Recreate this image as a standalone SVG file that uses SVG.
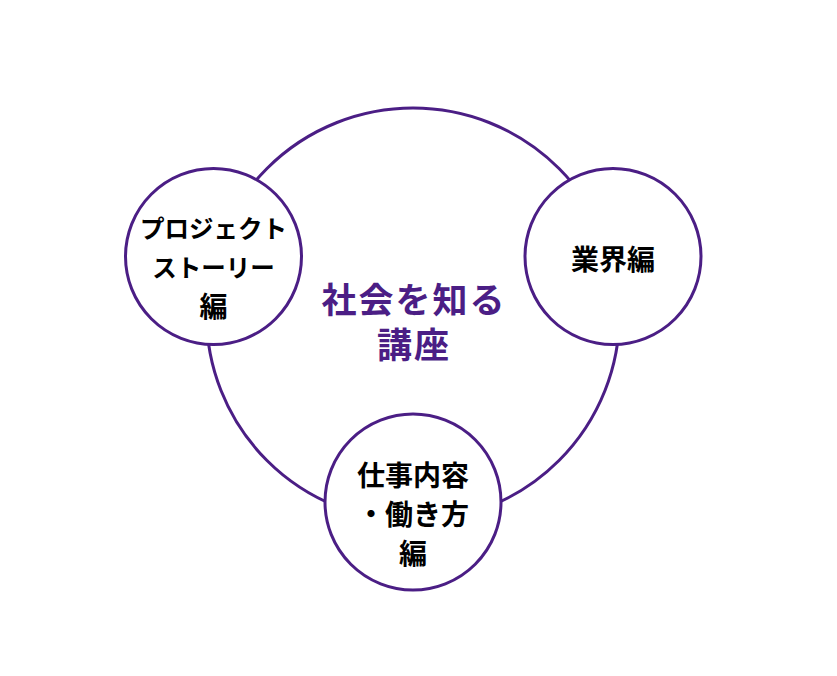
<svg xmlns="http://www.w3.org/2000/svg" width="837" height="676" viewBox="0 0 837 676">
<style>
.ring{fill:none;stroke:#4B1E85;stroke-width:3}
.node{fill:#fff;stroke:#4B1E85;stroke-width:3}
.lbl{font-family:"Noto Sans CJK JP","Noto Sans",sans-serif;font-size:28px;font-weight:700;fill:#000;text-anchor:middle}
.kana{font-size:24.5px}
.title{font-family:"Noto Sans CJK JP","Noto Sans",sans-serif;font-size:35px;font-weight:700;fill:#4B1E85;text-anchor:middle;letter-spacing:2px}
</style>
<rect width="837" height="676" fill="#fff"/>
<g id="connectors">
<circle class="ring" cx="413" cy="314.5" r="206.5"/>
</g>
<g id="center">
<text class="title" x="414" y="313">社会を知る</text>
<text class="title" x="414" y="358">講座</text>
</g>
<g id="node-project">
<circle class="node" cx="213.5" cy="256.5" r="88"/>
<text class="lbl kana" x="213.5" y="238">プロジェクト</text>
<text class="lbl kana" x="213.5" y="277">ストーリー</text>
<text class="lbl" x="213.5" y="317">編</text>
</g>
<g id="node-industry">
<circle class="node" cx="613" cy="256.5" r="88"/>
<text class="lbl" x="613" y="270">業界編</text>
</g>
<g id="node-work">
<circle class="node" cx="413" cy="502" r="88"/>
<text class="lbl" x="413" y="486">仕事内容</text>
<text class="lbl" x="413" y="525">・働き方</text>
<text class="lbl" x="413" y="564">編</text>
</g>
</svg>
